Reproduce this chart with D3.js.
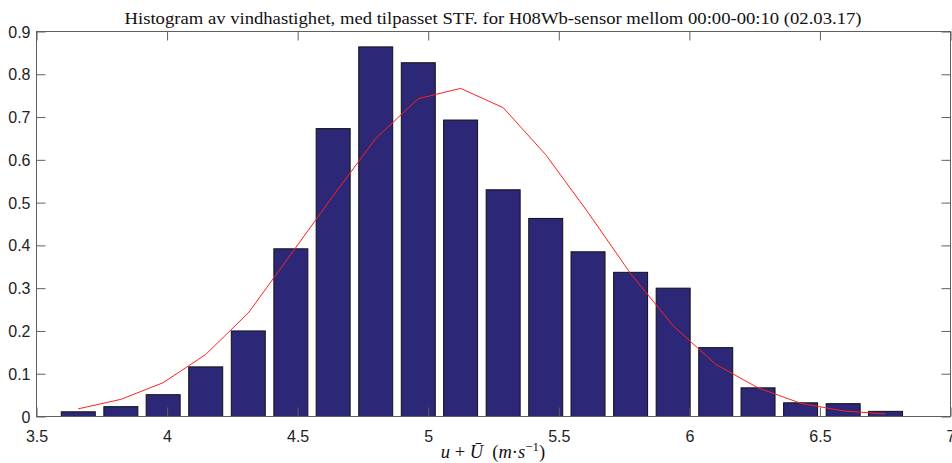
<!DOCTYPE html>
<html><head><meta charset="utf-8">
<script src="https://cdn.jsdelivr.net/npm/d3@7"></script>
<style>body{margin:0;background:#fff;overflow:hidden} svg{display:block}</style>
</head><body>
<svg id="c" width="952" height="463"></svg>
<script>
// ---- data ----
const binCenters = [3.660, 3.823, 3.985, 4.148, 4.311, 4.474, 4.636, 4.799, 4.962, 5.124,
                    5.287, 5.450, 5.612, 5.775, 5.938, 6.101, 6.263, 6.426, 6.589, 6.751];
const density    = [0.011, 0.023, 0.051, 0.116, 0.200, 0.392, 0.673, 0.864, 0.827, 0.693,
                    0.530, 0.463, 0.385, 0.337, 0.300, 0.161, 0.067, 0.032, 0.030, 0.012];
const fitted     = [0.018, 0.040, 0.079, 0.145, 0.242, 0.379, 0.516, 0.650, 0.743, 0.767,
                    0.722, 0.612, 0.477, 0.334, 0.212, 0.122, 0.067, 0.031, 0.013, 0.006];
const xTicks = [3.5, 4, 4.5, 5, 5.5, 6, 6.5, 7];
const yTicks = [0, 0.1, 0.2, 0.3, 0.4, 0.5, 0.6, 0.7, 0.8, 0.9];
const titleText = "Histogram av vindhastighet, med tilpasset STF. for H08Wb-sensor mellom 00:00-00:10 (02.03.17)";

// ---- layout ----
const svg = d3.select("#c");
const L = 36.5, R = 950.5, T = 31.5, B = 416.5;
const x = d3.scaleLinear().domain([3.5, 7]).range([L, R]);
const y = d3.scaleLinear().domain([0, 0.9]).range([B, T]);
const step = (binCenters[binCenters.length-1] - binCenters[0]) / (binCenters.length - 1);
const barW = 0.8 * step;
const axisCol = "#5f5f5f", textCol = "#222";
const tickLen = 9;

// bars
svg.append("g").selectAll("rect").data(binCenters).join("rect")
  .attr("x", (d) => x(d - barW/2))
  .attr("width", (d) => x(d + barW/2) - x(d - barW/2))
  .attr("y", (d, i) => y(density[i]))
  .attr("height", (d, i) => y(0) - y(density[i]))
  .attr("fill", "#2c2877")
  .attr("stroke", "#111")
  .attr("stroke-width", 1);

// fitted line
svg.append("path")
  .datum(binCenters.map((c, i) => [c, fitted[i]]))
  .attr("fill", "none")
  .attr("stroke", "#ff2020")
  .attr("stroke-width", 1)
  .attr("d", d3.line().x(d => x(d[0])).y(d => y(d[1])));

// axes
const ax = svg.append("g");
const xb = d3.axisBottom(x).tickValues(xTicks).tickSize(-tickLen).tickPadding(14).tickFormat(d3.format("~g"));
const xt = d3.axisTop(x).tickValues(xTicks).tickSize(-tickLen).tickFormat("");
const yl = d3.axisLeft(y).tickValues(yTicks).tickSize(-tickLen).tickPadding(14).tickFormat(d3.format("~g"));
const yr = d3.axisRight(y).tickValues(yTicks).tickSize(-tickLen).tickFormat("");
function style(g){
  g.selectAll(".domain").remove();
  g.selectAll(".tick line").attr("stroke", axisCol);
  g.selectAll("text").attr("fill", textCol).attr("font-family", "Liberation Sans, Arial, sans-serif").attr("font-size", "16px");
}
ax.append("g").attr("transform", `translate(0,${B})`).call(xb).call(style);
ax.append("g").attr("transform", `translate(0,${T})`).call(xt).call(style);
const gy = ax.append("g").attr("transform", `translate(${L},0)`).call(yl).call(style);
gy.selectAll("text").attr("dy", "0.35em").attr("x", -6);
ax.append("g").attr("transform", `translate(${R},0)`).call(yr).call(style);
ax.append("rect").attr("x", L).attr("y", T).attr("width", R - L).attr("height", B - T)
  .attr("fill", "none").attr("stroke", axisCol).attr("stroke-width", 1);

// title
const title = svg.append("text")
  .attr("x", 493).attr("y", 24)
  .attr("text-anchor", "middle")
  .attr("font-family", "Liberation Serif, Times New Roman, serif")
  .attr("font-size", "17px")
  .attr("fill", "#111")
  .text(titleText);
const tw = title.node().getComputedTextLength();
if (Math.abs(tw - 737) > 4) title.attr("textLength", 737).attr("lengthAdjust", "spacingAndGlyphs");

// x label
const xl = svg.append("text")
  .attr("x", 493).attr("y", 458)
  .attr("text-anchor", "middle")
  .attr("font-family", "Liberation Serif, Times New Roman, serif")
  .attr("font-size", "18.5px")
  .attr("fill", "#111")
  .style("white-space", "pre");
xl.append("tspan").attr("font-style", "italic").text("u");
xl.append("tspan").text(" + ");
xl.append("tspan").attr("font-style", "italic").text("\u016A");
xl.append("tspan").text("  (");
xl.append("tspan").attr("font-style", "italic").text("m");
xl.append("tspan").text("\u00B7");
xl.append("tspan").attr("font-style", "italic").text("s");
xl.append("tspan").attr("font-size", "13px").attr("dy", "-7").text("\u22121");
xl.append("tspan").attr("dy", "7").text(")");
</script>
</body></html>
